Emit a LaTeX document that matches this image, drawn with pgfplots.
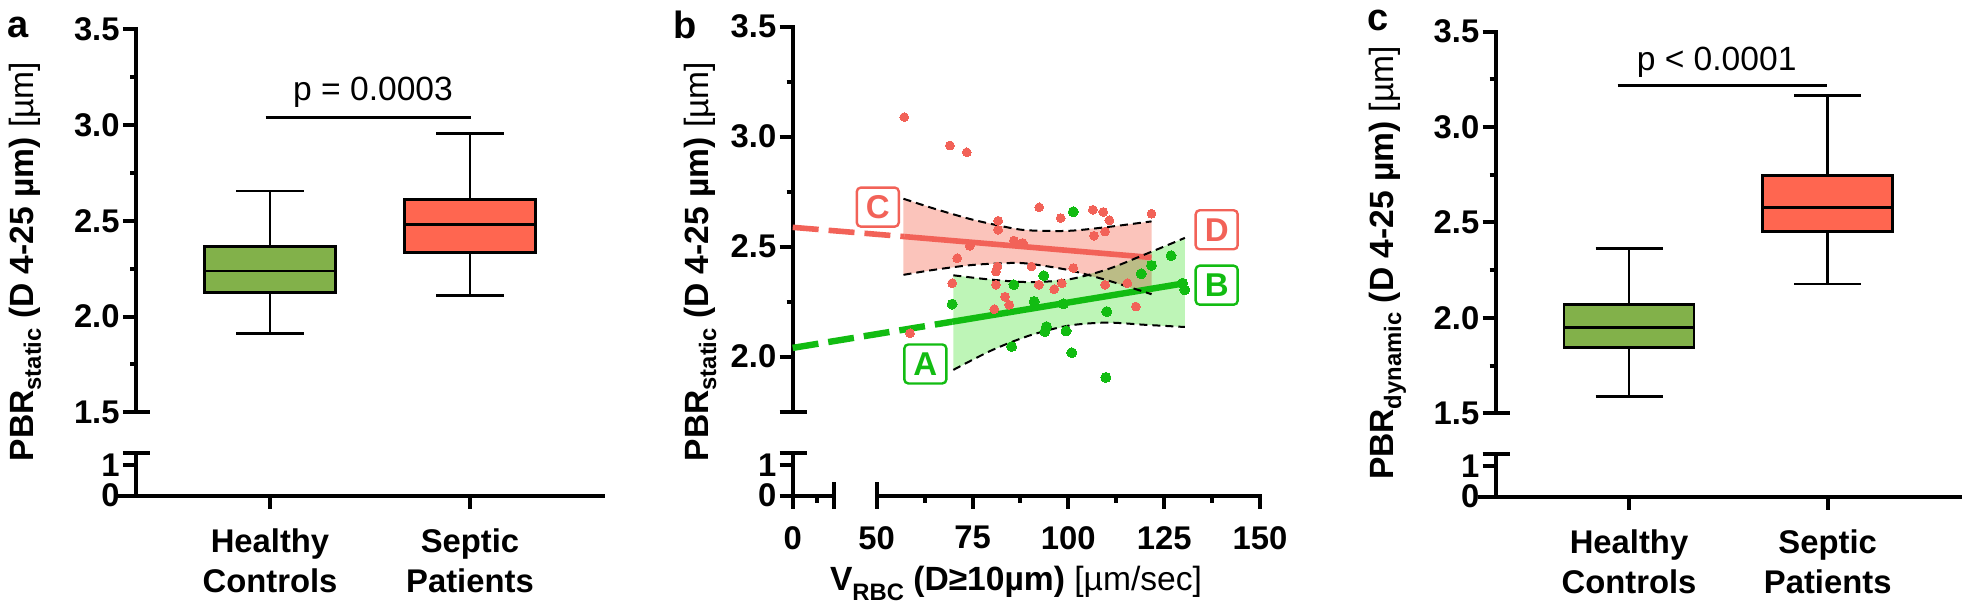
\documentclass[border=0pt]{standalone}
\usepackage{fontspec}
\setmainfont{Liberation Sans}
\usepackage{pgfplots}
\pgfplotsset{compat=1.18}
\usepgfplotslibrary{statistics}

\definecolor{boxG}{RGB}{130,177,74}
\definecolor{boxR}{RGB}{255,102,80}
\definecolor{ptR}{RGB}{242,98,88}
\definecolor{ptG}{RGB}{18,188,18}
\definecolor{bandR}{RGB}{251,196,187}
\definecolor{bandG}{RGB}{190,245,183}

\newcommand\tf{\fontsize{16.4bp}{20bp}\selectfont\bfseries}
\newcommand\lf{\fontsize{16.8bp}{20bp}\selectfont}
\newcommand\sub[2][-3.8bp]{\raisebox{#1}{\fontsize{11.9bp}{12bp}\selectfont #2}}

\tikzset{
  lbl/.style={draw=#1, text=#1, rounded corners=2bp, line width=1.2bp,
    minimum width=21bp, minimum height=19.5bp, inner sep=0pt,
    font=\fontsize{16.5bp}{18bp}\selectfont\bfseries},
  plbl/.style={anchor=base, inner sep=0pt, font=\fontsize{19bp}{20bp}\selectfont\bfseries},
}
\pgfplotsset{
  base/.style={scale only axis, clip=false, anchor=south west,
    axis line style={line width=2bp, line cap=rect, -},
    tick style={line width=2bp, black},
    major tick length=6.5bp, minor tick length=3bp,
    tick align=outside,
    ticklabel style={font=\tf, inner sep=0pt},
    yticklabel style={anchor=east, xshift=-1.5bp},
    xticklabel style={anchor=north, yshift=-10bp},
    boxplot/draw direction=y,
  },
  cat/.style={xtick={1,2}, xticklabels={{Healthy\\Controls},{Septic\\Patients}},
    xticklabel style={align=center}},
  bx/.style={draw=black, line width=1.3bp},
}

\begin{document}
\begin{tikzpicture}
\useasboundingbox (0,0) rectangle (984bp,304bp);

% ================= Panel a =================
\begin{axis}[base, at={(68bp,97.85bp)}, width=233.5bp, height=191.5bp,
  xmin=0.33, xmax=2.665, ymin=1.5, ymax=3.5,
  axis x line=none, axis y line*=left, xtick=\empty,
  ytick={1.5,2,2.5,3,3.5}, yticklabels={1.5,2.0,2.5,3.0,3.5},
  minor ytick={1.75,2.25,2.75,3.25}]
\addplot[bx, fill=boxG, boxplot prepared={draw position=1, lower whisker=1.913,
  lower quartile=2.125, median=2.238, upper quartile=2.365, upper whisker=2.656,
  box extend=0.656, whisker extend=0.34}] coordinates {};
\addplot[bx, fill=boxR, boxplot prepared={draw position=2, lower whisker=2.111,
  lower quartile=2.334, median=2.482, upper quartile=2.612, upper whisker=2.957,
  box extend=0.656, whisker extend=0.34}] coordinates {};
\addplot[black, line width=1.2bp] coordinates {(0.9785,3.04) (2.005,3.04)};
\node[font=\lf, anchor=base] at (axis cs:1.515,3.127) {p = 0.0003};
\draw[line width=2bp] (rel axis cs:0,0) -- ++(7bp,0bp);
\end{axis}
\begin{axis}[base, cat, at={(68bp,56.15bp)}, width=233.5bp, height=21.2bp,
  xmin=0.33, xmax=2.665, ymin=0, ymax=1.4,
  axis x line*=bottom, axis y line*=left,
  ytick={0,1}, yticklabels={0,1}]
\addplot[draw=none] coordinates {(1,0.5)};
\draw[line width=2bp] (rel axis cs:0,0) -- ++(-9bp,0bp);
\draw[line width=2bp] (rel axis cs:0,1) ++(-6.5bp,0bp) -- ++(13.5bp,0bp);
\end{axis}

% ================= Panel b =================
\begin{axis}[base, at={(396.35bp,98.15bp)}, width=233.65bp, height=192.5bp,
  xmin=28.1, xmax=150, ymin=1.75, ymax=3.5,
  axis x line=none, axis y line*=left, xtick=\empty,
  ytick={1.75,2,2.5,3,3.5}, yticklabels={,2.0,2.5,3.0,3.5},
  minor ytick={2.25,2.75,3.25}]
% confidence bands
\addplot[fill=bandR, draw=none] coordinates {
 (57,2.718) (65,2.673) (75,2.623) (85,2.585) (90,2.574) (100,2.572) (110,2.589) (121.7,2.615)
 (121.7,2.284) (110,2.348) (100,2.394) (90,2.422) (85,2.426) (75,2.417) (65,2.395) (57,2.372)} -- cycle;
\addplot[fill=bandG, draw=none, blend mode=multiply] coordinates {
 (70,2.370) (80,2.350) (90,2.339) (100,2.351) (110,2.396) (120,2.465) (130.4,2.540)
 (130.4,2.135) (120,2.145) (110,2.155) (100,2.141) (90,2.097) (80,2.029) (70,1.940)} -- cycle;
% points
\addplot[only marks, mark=*, ptR, mark size=2.2bp, mark options={solid, fill=ptR, draw=ptR, line width=0pt}] coordinates {
 (57.2,3.089) (69.1,2.960) (73.5,2.929) (92.4,2.679) (81.7,2.618) (81.7,2.577) (98.0,2.630)
 (106.4,2.668) (109.1,2.658) (110.7,2.620) (106.7,2.550) (109.6,2.569) (121.7,2.650)
 (85.8,2.528) (88.1,2.517) (74.3,2.504) (71.0,2.448) (81.5,2.410) (81.1,2.387) (90.4,2.410)
 (101.3,2.403) (69.7,2.334) (81.1,2.327) (92.3,2.327) (98.3,2.334) (96.3,2.307) (109.6,2.327)
 (115.4,2.334) (83.5,2.273) (84.6,2.236) (80.7,2.216) (117.6,2.228) (58.7,2.107)};
\addplot[only marks, mark=*, ptG, mark size=2.5bp, mark options={solid, fill=ptG, draw=ptG, line width=0pt}] coordinates {
 (69.7,2.239) (85.8,2.327) (93.6,2.368) (101.3,2.659) (91.1,2.251) (98.7,2.240) (94.3,2.137)
 (93.9,2.114) (99.4,2.117) (85.2,2.046) (100.9,2.018) (109.8,1.906) (110.0,2.205) (119.0,2.377)
 (121.7,2.415) (126.8,2.459) (129.8,2.334) (130.4,2.304)};
% regression lines
\addplot[ptR, line width=2.8bp, dash pattern=on 13bp off 5bp] coordinates {(28.1,2.588) (57.2,2.546)};
\addplot[ptR, line width=2.8bp] coordinates {(57.2,2.546) (121.7,2.451)};
\addplot[ptG, line width=3.2bp, dash pattern=on 13bp off 5bp] coordinates {(28.1,2.040) (69.7,2.159)};
\addplot[ptG, line width=3.2bp] coordinates {(69.7,2.159) (130.4,2.334)};
% confidence limits
\addplot[black, line width=1bp, dash pattern=on 4bp off 2.5bp, smooth] coordinates {
 (57,2.718) (65,2.673) (75,2.623) (85,2.585) (90,2.574) (100,2.572) (110,2.589) (121.7,2.615)};
\addplot[black, line width=1bp, dash pattern=on 4bp off 2.5bp, smooth] coordinates {
 (57,2.372) (65,2.395) (75,2.417) (85,2.426) (90,2.422) (100,2.394) (110,2.348) (121.7,2.284)};
\addplot[black, line width=1bp, dash pattern=on 4bp off 2.5bp, smooth] coordinates {
 (70,2.370) (80,2.350) (90,2.339) (100,2.351) (110,2.396) (120,2.465) (130.4,2.540)};
\addplot[black, line width=1bp, dash pattern=on 4bp off 2.5bp, smooth] coordinates {
 (70,1.940) (80,2.029) (90,2.097) (100,2.141) (110,2.155) (120,2.145) (130.4,2.135)};
% letter tags
\node[lbl=ptR] at (axis cs:50.3,2.680) {C};
\node[lbl=ptR] at (axis cs:138.7,2.577) {D};
\node[lbl=ptG] at (axis cs:62.7,1.967) {A};
\node[lbl=ptG] at (axis cs:138.7,2.325) {B};
\draw[line width=2bp] (rel axis cs:0,0) -- ++(7bp,0bp);
\end{axis}
\begin{axis}[base, at={(396.35bp,56.15bp)}, width=20.65bp, height=21.5bp,
  xmin=0, xmax=25, ymin=0, ymax=1.4, minor tick length=3.5bp,
  xticklabel style={yshift=1.5bp},
  axis x line*=bottom, axis y line*=left,
  ytick={0,1}, yticklabels={0,1}, xtick={0}, xticklabels={0}, minor xtick={14.5}]
\addplot[draw=none] coordinates {(5,0.5)};
\draw[line width=2bp] (rel axis cs:0,1) ++(-6.5bp,0bp) -- ++(13.5bp,0bp);
\draw[line width=2bp] (rel axis cs:1,0) ++(0bp,6.7bp) -- ++(0bp,-13.4bp);
\end{axis}
\begin{axis}[base, at={(438.35bp,56.15bp)}, width=191.65bp, height=21.5bp,
  xmin=50, xmax=150, ymin=0, ymax=1.4, minor tick length=3.5bp,
  xticklabel style={yshift=1.5bp},
  axis x line*=bottom, axis y line=none, ytick=\empty,
  xtick={50,75,100,125,150}, xticklabels={50,75,100,125,150},
  minor xtick={62.5,87.5,112.5,137.5}]
\addplot[draw=none] coordinates {(60,0.5)};
\draw[line width=2bp] (rel axis cs:0,0) -- ++(0bp,6.7bp);
\end{axis}

% ================= Panel c =================
\begin{axis}[base, at={(747.85bp,97.35bp)}, width=232.15bp, height=190.8bp,
  xmin=0.329, xmax=2.666, ymin=1.5, ymax=3.5,
  axis x line=none, axis y line*=left, xtick=\empty,
  ytick={1.5,2,2.5,3,3.5}, yticklabels={1.5,2.0,2.5,3.0,3.5},
  minor ytick={1.75,2.25,2.75,3.25}]
\addplot[bx, fill=boxG, boxplot prepared={draw position=1, lower whisker=1.587,
  lower quartile=1.844, median=1.949, upper quartile=2.071, upper whisker=2.365,
  box extend=0.654, whisker extend=0.337}] coordinates {};
\addplot[bx, fill=boxR, boxplot prepared={draw position=2, lower whisker=2.178,
  lower quartile=2.452, median=2.578, upper quartile=2.745, upper whisker=3.165,
  box extend=0.654, whisker extend=0.337}] coordinates {};
\addplot[black, line width=1.2bp] coordinates {(0.943,3.217) (1.998,3.217)};
\node[font=\lf, anchor=base] at (axis cs:1.441,3.299) {p < 0.0001};
\draw[line width=2bp] (rel axis cs:0,0) -- ++(7bp,0bp);
\end{axis}
\begin{axis}[base, cat, at={(747.85bp,55.65bp)}, width=232.15bp, height=21.35bp,
  xmin=0.329, xmax=2.666, ymin=0, ymax=1.4,
  axis x line*=bottom, axis y line*=left,
  ytick={0,1}, yticklabels={0,1}]
\addplot[draw=none] coordinates {(1,0.5)};
\draw[line width=2bp] (rel axis cs:0,0) -- ++(-9bp,0bp);
\draw[line width=2bp] (rel axis cs:0,1) ++(-6.5bp,0bp) -- ++(13.5bp,0bp);
\end{axis}

% ================= texts =================
\node[plbl] at (9bp,285bp) {a};
\node[plbl] at (342.5bp,284.5bp) {b};
\node[plbl] at (689bp,288.5bp) {c};
\node[rotate=90, anchor=base, font=\lf] at (16.65bp,173.25bp) {\textbf{PBR\sub{static} (D 4-25 µm)} [µm]};
\node[rotate=90, anchor=base, font=\lf] at (354.2bp,173.25bp) {\textbf{PBR\sub{static} (D 4-25 µm)} [µm]};
\node[rotate=90, anchor=base, font=\lf] at (696.7bp,172.5bp) {\textbf{PBR\sub{dynamic} (D 4-25 µm)} [µm]};
\node[anchor=base, font=\lf] at (508bp,9bp) {\textbf{V\sub[-5bp]{RBC} (D≥10µm)} [µm/sec]};
\end{tikzpicture}
\end{document}
